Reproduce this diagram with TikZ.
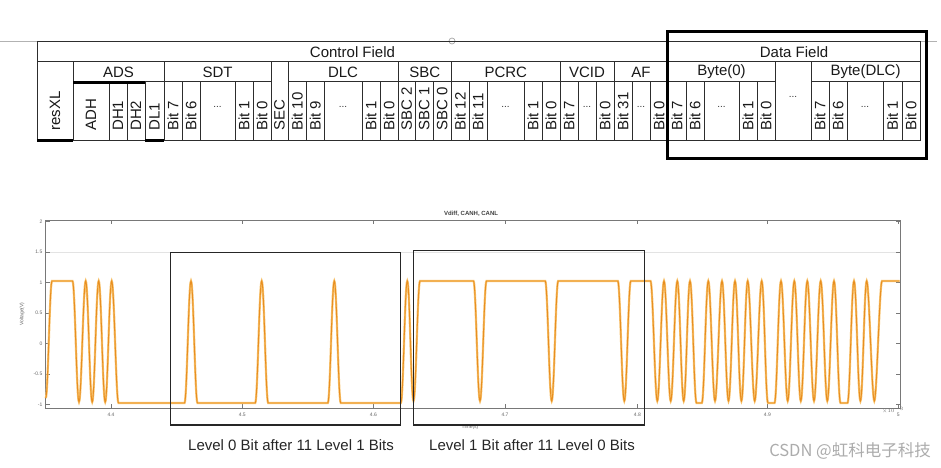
\documentclass[tikz,border=0pt]{standalone}
\usepackage{fontspec}
\setmainfont{Liberation Sans}
\newfontfamily\cjkfont{Noto Sans CJK SC}
\definecolor{sigA}{RGB}{248,195,110}
\definecolor{sigB}{RGB}{232,142,32}
\definecolor{tline}{RGB}{45,45,45}
\definecolor{axgray}{RGB}{120,120,120}
\begin{document}
\begin{tikzpicture}[x=1pt,y=-1pt,
  tl/.style={draw=tline,line width=0.8pt},
  thk/.style={draw=black,line width=3pt},
  rt/.style={rotate=90,anchor=west,inner sep=0pt,font=\fontsize{15}{18}\selectfont,text=black!90},
  hd/.style={inner sep=0pt,font=\fontsize{15}{18}\selectfont,text=black!90},
  dotsn/.style={inner sep=0pt,font=\fontsize{10}{12}\selectfont,text=black!80},
  tick/.style={draw=axgray,line width=0.6pt},
  ticklab/.style={inner sep=0pt,font=\fontsize{5}{6}\selectfont,text=black!60},
  hl/.style={draw=black!85,line width=1.3pt},
  s/.style={out=0,in=180,looseness=0.05},
  halo/.style={draw=sigA,line width=2.2pt},
  core/.style={draw=sigB,line width=0.9pt},
  lab/.style={inner sep=0pt,font=\fontsize{15}{18}\selectfont,text=black!85}]
\useasboundingbox (0,0) rectangle (941,467);
\fill[white] (0,0) rectangle (941,467);

% top guide line and handle
\draw[gray!60,line width=0.8pt] (0,41) -- (937,41);
\node[circle,draw=gray!70,fill=white,line width=0.7pt,minimum size=6pt,inner sep=0pt,name=handle] at (452,41) {};

% ---------- table ----------
\draw[tl] (37,41) rectangle (920,140.5);
\draw[tl] (37,61.5) -- (920,61.5);
\draw[tl] (73,81.5) -- (271,81.5);
\draw[tl] (288,81.5) -- (775,81.5);
\draw[tl] (811,81.5) -- (920,81.5);
\draw[tl] (668,41) -- (668,140.5);
\foreach \x in {73,164,271,288,398,451.5,560,614,775,811}
  \draw[tl] (\x,61.5) -- (\x,140.5);
\foreach \x in {109,127,145,182,200,235,253,306.5,324,362,380,415.5,433,469,487,524,542,578,596,632,650,686,704,739,757,829,847,883,902}
  \draw[tl] (\x,81.5) -- (\x,140.5);

% thick accents
\draw[thk] (73,82.5) -- (145,82.5);
\draw[thk] (37,140.5) -- (73,140.5);
\draw[thk] (145,140.5) -- (164,140.5);
\draw[thk] (667.7,31.7) rectangle (926.7,158);

% headers
\node[hd,name=cf] at (352.5,52) {Control Field};
\node[hd,name=df] at (794,52) {Data Field};
\foreach \x/\t [count=\i] in {118.5/ADS,217.5/SDT,343/DLC,424.8/SBC,505.8/PCRC,587/VCID,641/AF,721.5/Byte(0),865.5/Byte(DLC)}
  \node[hd,name=g\i] at (\x,72) {\t};

% rotated cell labels
\foreach \x/\t [count=\i] in {55/resXL,91/ADH,118/DH1,136/DH2,154.5/DL1,173/Bit 7,191/Bit 6,244/Bit 1,262/Bit 0,279.5/SEC,297.2/Bit 10,315.2/Bit 9,371/Bit 1,389/Bit 0,406.7/SBC 2,424.2/SBC 1,442.2/SBC 0,460.2/Bit 12,478/Bit 11,533/Bit 1,551/Bit 0,569/Bit 7,605/Bit 0,623/Bit 31,659/Bit 0,677/Bit 7,695/Bit 6,748/Bit 1,766/Bit 0,820/Bit 7,838/Bit 6,892.5/Bit 1,911/Bit 0}
  \node[rt,name=r\i] at (\x,131) {\t};

% ellipsis cells
\foreach \x [count=\i] in {217.5,343,505.5,587,641,721.5,865}
  \node[dotsn,name=e\i] at (\x,107) {...};
\node[dotsn,name=emid] at (793,97) {...};

% ---------- plot ----------
\draw[gray!22,line width=0.5pt] (46,251.8) -- (900,251.8);
\draw[draw=axgray,line width=0.8pt] (45.7,220) rectangle (900,408);
\foreach \x/\t [count=\i] in {111/4.4,242.3/4.5,373.3/4.6,505/4.7,637.3/4.8,767.3/4.9,898.3/5}{
  \draw[tick] (\x,408) -- (\x,404);
  \draw[tick] (\x,220) -- (\x,224);
  \node[ticklab,name=xl\i] at (\x,415) {\t};
}
\foreach \y/\t [count=\i] in {221.3/2,251.8/1.5,282.3/1,312.8/0.5,343.3/0,373.8/-0.5,404.3/-1}{
  \draw[tick] (45.7,\y) -- (49.7,\y);
  \draw[tick] (900,\y) -- (896,\y);
  \node[ticklab,anchor=east,name=yl\i] at (42.5,\y) {\t};
}
\node[ticklab,name=expo] at (893,410) {$\times10^{-3}$};
\node[ticklab,name=xlabel] at (470,427) {Time(s)};
\node[ticklab,rotate=90,name=ylabel] at (22,314) {Voltage(V)};
\node[inner sep=0pt,font=\fontsize{6}{7}\selectfont\bfseries,text=black!75,name=title] at (471,214) {Vdiff, CANH, CANL};

% signal
\foreach \st in {halo,core}{
\draw[\st] (45.7,398) to[s] (52,281) -- (72.5,281) to[s] (79,402) to[s] (85.7,281) to[s] (92.2,402) to[s] (98.7,281) to[s] (105.2,402) to[s] (111.7,281) to[s] (118.5,403) -- (184.5,403) to[s] (191,281) to[s] (197.5,403) -- (255.2,403) to[s] (261.7,281) to[s] (268.2,403) -- (327.8,403) to[s] (334.3,281) to[s] (340.8,403) -- (400.8,403) to[s] (407.3,281) to[s] (413.5,401) to[s] (420,281) -- (473.5,281) to[s] (480,401) to[s] (486.5,281) -- (545.2,281) to[s] (551.7,401) to[s] (558.2,281) -- (617.8,281) to[s] (624.3,401) to[s] (630.8,281) -- (650.5,281) to[s] (657.3,401) to[s] (664,281) to[s] (670.7,401) to[s] (677.3,281) to[s] (683.7,401) to[s] (690,281) to[s] (696.5,403) -- (701.8,403) to[s] (708.3,281) to[s] (715,401) to[s] (722,281) to[s] (728.5,401) to[s] (735,281) to[s] (741.4,401) to[s] (747.7,281) to[s] (754.7,401) to[s] (761.7,281) to[s] (768,403) -- (774.5,403) to[s] (781,281) to[s] (787.7,401) to[s] (794.3,281) to[s] (800.8,401) to[s] (807.3,281) to[s] (814,401) to[s] (820.7,281) to[s] (827.3,401) to[s] (834,281) to[s] (840.5,403) -- (847.5,403) to[s] (854,281) to[s] (860.4,401) to[s] (866.7,281) to[s] (874.3,401) to[s] (882,281) -- (899.5,281);
}

% highlight boxes
\draw[hl] (170.5,252.5) rectangle (400.5,425);
\draw[hl] (413.3,250.7) rectangle (644.5,425);

% captions
\node[lab,name=cap1] at (291,445) {Level 0 Bit after 11 Level 1 Bits};
\node[lab,name=cap2] at (532,445) {Level 1 Bit after 11 Level 0 Bits};

% watermark
\node[inner sep=0pt,font=\cjkfont\fontsize{16.5}{18}\selectfont,text=gray!65,name=wm] at (850,451) {CSDN @虹科电子科技};
\end{tikzpicture}
\end{document}
